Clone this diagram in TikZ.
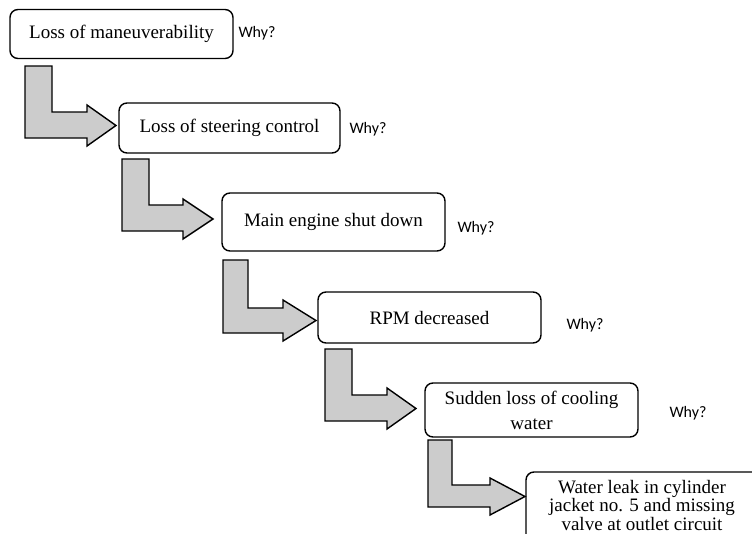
\documentclass[tikz,border=0pt]{standalone}
\usepackage{fontspec}
\setmainfont{Liberation Serif}
\newfontfamily\whyfont{Carlito}
\begin{document}
\begin{tikzpicture}[x=1pt,y=-1pt,
  box/.style={draw=black, line width=1.4pt, rounded corners=8pt, fill=white, inner sep=0pt, align=center, font=\fontsize{19}{20}\selectfont},
  why/.style={font=\whyfont\fontsize{16}{18}\selectfont, inner sep=0pt},
  blockarrow/.style={draw=black, line width=1.4pt, fill=black!20, line join=miter}]
\clip (0,0) rectangle (752,533);
\fill[white] (0,0) rectangle (752,533);
% boxes
\node[box, minimum width=223pt, minimum height=49pt] (b1) at (121.5,34) {Loss of maneuverability};
\node[box, minimum width=221pt, minimum height=50pt] (b2) at (229.5,128) {Loss of steering control};
\node[box, minimum width=223pt, minimum height=58pt] (b3) at (333.5,222) {Main engine shut down};
\node[box, minimum width=223pt, minimum height=51pt] (b4) at (429.5,317.5) {RPM decreased};
\node[box, minimum width=213pt, minimum height=54pt, font=\fontsize{19}{25}\selectfont] (b5) at (531.5,410) {Sudden loss of cooling\\water};
\node[box, minimum width=244pt, minimum height=88pt] (b6) at (648,516) {};
\node[inner sep=0pt, align=center, font=\fontsize{19}{18.5}\selectfont] (t6) at (642,505) {Water leak in cylinder\\jacket no. 5 and missing\\valve at outlet circuit};
% why labels
\node[why] (w1) at (257,33) {Why?};
\node[why] (w2) at (368,129) {Why?};
\node[why] (w3) at (476,228) {Why?};
\node[why] (w4) at (585,325) {Why?};
\node[why] (w5) at (688,413) {Why?};
% block arrows
\draw[blockarrow] (25,66) -- (52,66) -- (52,112) -- (87,112) -- (87,105) -- (116,125.5) -- (87,146) -- (87,138) -- (25,138) -- cycle;
\draw[blockarrow] (122,159) -- (149,159) -- (149,205) -- (183,205) -- (183,199) -- (213,219) -- (183,239) -- (183,231) -- (122,231) -- cycle;
\draw[blockarrow] (223,260) -- (248,260) -- (248,308) -- (283,308) -- (283,300) -- (316,320.5) -- (283,341) -- (283,333) -- (223,333) -- cycle;
\draw[blockarrow] (325,349) -- (352,349) -- (352,395) -- (387,395) -- (387,388) -- (416,408.5) -- (387,429) -- (387,421) -- (325,421) -- cycle;
\draw[blockarrow] (428,440) -- (452,440) -- (452,485) -- (490,485) -- (490,478) -- (525,496.5) -- (490,515) -- (490,507) -- (428,507) -- cycle;
\end{tikzpicture}
\end{document}
